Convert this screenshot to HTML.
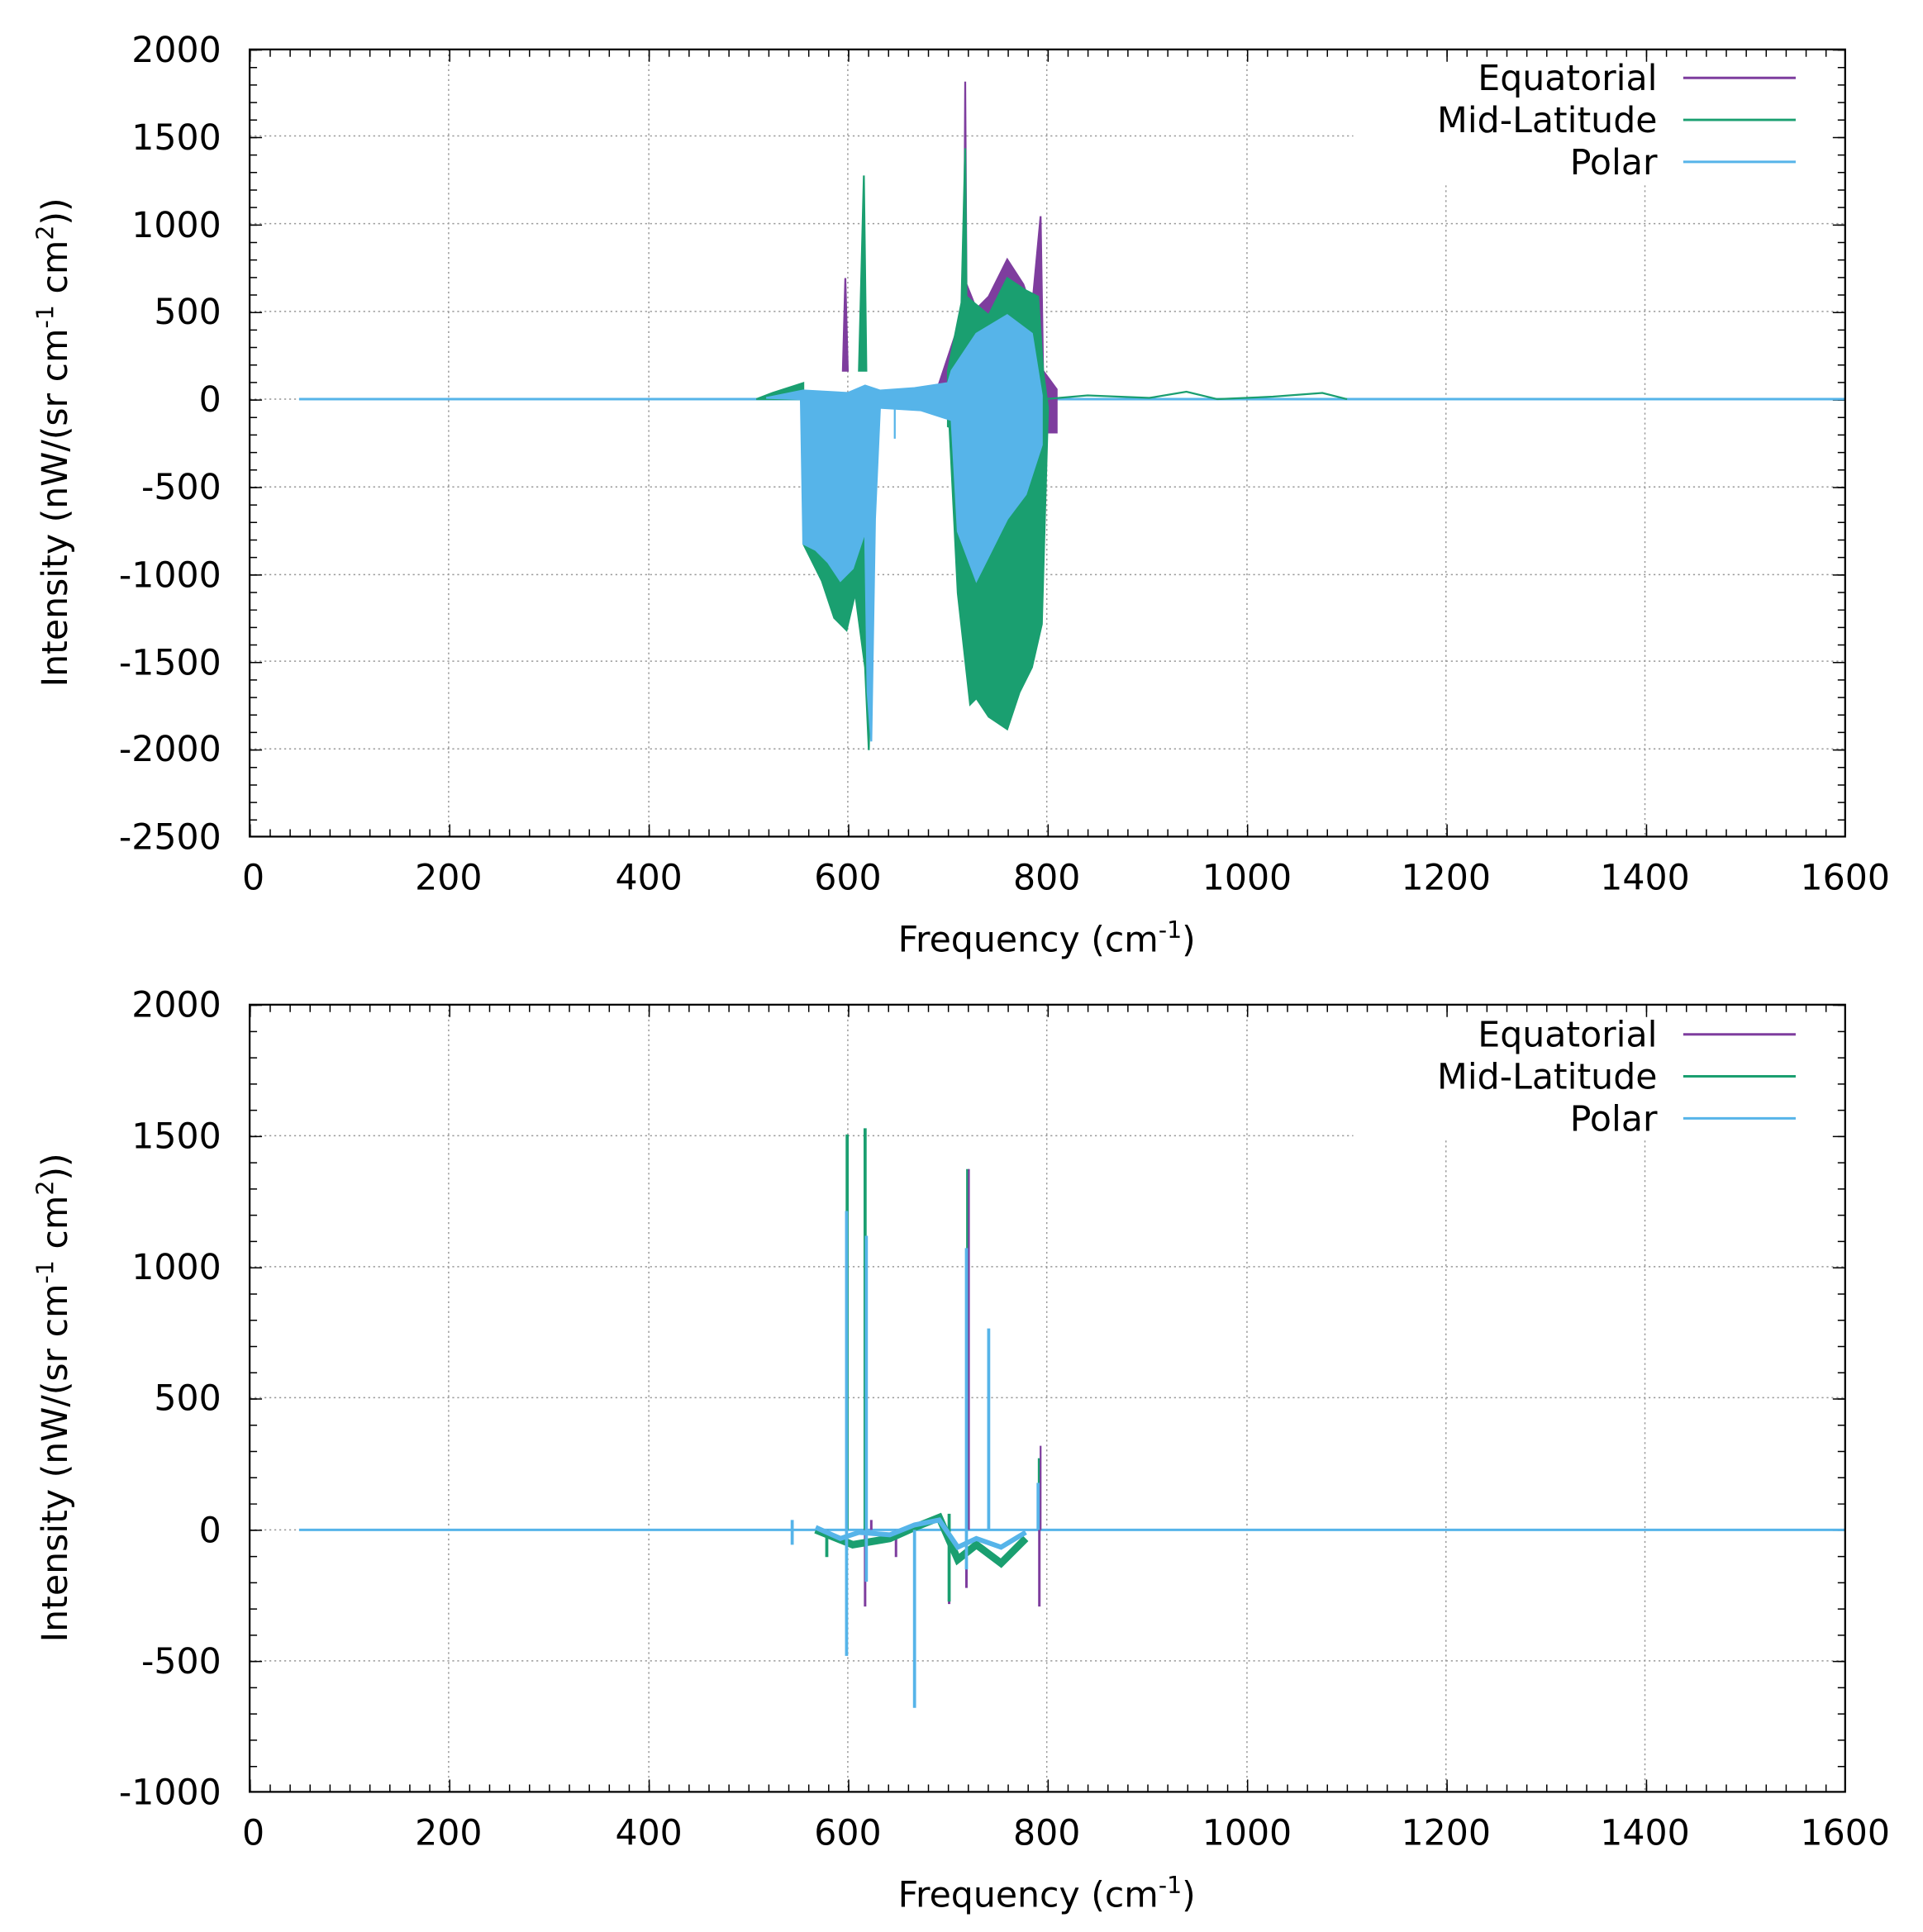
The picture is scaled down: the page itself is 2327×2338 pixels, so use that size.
<!DOCTYPE html>
<html><head><meta charset="utf-8"><style>html,body{margin:0;padding:0;background:#fff}svg{display:block}</style></head><body>
<svg width="2327" height="2338" viewBox="0 0 1556 1563.4" preserveAspectRatio="none" xmlns="http://www.w3.org/2000/svg" font-family="DejaVu Sans, Liberation Sans, sans-serif" font-size="28.5">
<rect width="1556" height="1564" fill="#fff"/>
<!-- ============ TOP PLOT ============ -->
<g stroke="#999" stroke-width="1" stroke-dasharray="1.5 2.5" fill="none">
<path d="M202 110H1095M202 181H1493M202 252H1493M202 394H1493M202 465H1493M202 535H1493M202 606H1493"/>
<path d="M363 40V677M525 40V677M686 40V677M847 40V677M1009 40V677M1170 150V677M1331 150V677"/>
</g>
<g stroke="#000" stroke-width="1" fill="none">
<path d="M202 323H1493" stroke="#999" stroke-dasharray="1.5 2.5"/>
<line x1="202" y1="674" x2="1493" y2="674" stroke-width="6" stroke-dasharray="1 15.14"/>
<line x1="202" y1="43" x2="1493" y2="43" stroke-width="6" stroke-dasharray="1 15.14"/>
<line x1="205" y1="40" x2="205" y2="677" stroke-width="6" stroke-dasharray="1 13.16"/>
<line x1="1490" y1="40" x2="1490" y2="677" stroke-width="6" stroke-dasharray="1 13.16"/>
<line x1="202" y1="672" x2="1493" y2="672" stroke-width="10" stroke-dasharray="1 160.4"/>
<line x1="202" y1="45" x2="1493" y2="45" stroke-width="10" stroke-dasharray="1 160.4"/>
<line x1="207" y1="40" x2="207" y2="677" stroke-width="10" stroke-dasharray="1 69.8"/>
<line x1="1488" y1="40" x2="1488" y2="677" stroke-width="10" stroke-dasharray="1 69.8"/>
</g>
<path d="M242 323H1493" stroke="#56b4e9" stroke-width="2"/>
<g stroke-width="1.5">
<path d="M612 323L625 318L650 310L650 440L665 470L675 500L685 510L692 480L700 540L703 607L706 470L710 330L712 318L740 318L767 315L767 345L780 350L780 323Z" fill="#1a9f70" stroke="#1a9f70"/>
<path d="M760 310L780 250L781 66L782 230L790 250L800 240L815 210L828 230L835 250L842 175L844 300L855 315L855 350L843 350L843 323Z" fill="#7e3d9e" stroke="#7e3d9e"/>
<path d="M767 300L778 245L781 120L782 240L800 255L815 225L830 235L840 240L844 300L848 330L843 505L835 540L825 560L815 590L800 580L790 565L785 570L775 480L767 320Z" fill="#1a9f70" stroke="#1a9f70"/>
<path d="M695 300L699 142L701 300Z" fill="#1a9f70" stroke="#1a9f70"/>
<path d="M682 300L684 225L686 300Z" fill="#7e3d9e" stroke="#7e3d9e"/>
<path d="M620 322L650 316L686 318L700 312L712 316L740 314L767 310L770 300L790 270L815 255L835 270L843 320L843 360L830 400L815 420L810 430L800 450L790 470L775 430L770 340L745 332L712 330L708 420L705 600L702 560L700 430L690 460L680 470L670 455L660 445L650 440L648 323Z" fill="#56b4e9" stroke="#56b4e9"/>
<path d="M845 323L880 320L930 322L960 317L985 323L1030 321L1070 318L1090 323" fill="none" stroke="#1a9f70"/>
<path d="M666 323V390M724 323V355" stroke="#56b4e9"/>
</g>
<rect x="202" y="40" width="1291" height="637" fill="none" stroke="#000" stroke-width="1.5"/>
<g text-anchor="end" fill="#000">
<text x="179" y="50">2000</text><text x="179" y="121">1500</text><text x="179" y="192">1000</text><text x="179" y="262">500</text><text x="179" y="333">0</text><text x="179" y="404">-500</text><text x="179" y="475">-1000</text><text x="179" y="546">-1500</text><text x="179" y="616">-2000</text><text x="179" y="687">-2500</text>
</g>
<g text-anchor="middle" fill="#000">
<text x="205" y="720">0</text><text x="363" y="720">200</text><text x="525" y="720">400</text><text x="686" y="720">600</text><text x="847" y="720">800</text><text x="1009" y="720">1000</text><text x="1170" y="720">1200</text><text x="1331" y="720">1400</text><text x="1493" y="720">1600</text>
<text x="847" y="770">Frequency (cm<tspan font-size="19" dy="-11">-1</tspan><tspan dy="11">)</tspan></text>
<text transform="translate(54 358) rotate(-90)">Intensity (nW/(sr cm<tspan font-size="19" dy="-11">-1</tspan><tspan dy="11"> cm</tspan><tspan font-size="19" dy="-11">2</tspan><tspan dy="11">))</tspan></text>
</g>
<g text-anchor="end"><text x="1341" y="73">Equatorial</text><text x="1341" y="107">Mid-Latitude</text><text x="1341" y="141">Polar</text></g>
<path d="M1362 63H1453" stroke="#7e3d9e" stroke-width="2"/><path d="M1362 97H1453" stroke="#1a9f70" stroke-width="2"/><path d="M1362 131H1453" stroke="#56b4e9" stroke-width="2"/>

<!-- ============ BOTTOM PLOT ============ -->
<g stroke="#999" stroke-width="1" stroke-dasharray="1.5 2.5" fill="none">
<path d="M202 919H1095M202 1025H1493M202 1131H1493M202 1238H1493M202 1344H1493"/>
<path d="M363 813V1450M525 813V1450M686 813V1450M847 813V1450M1009 813V1450M1170 923V1450M1331 923V1450"/>
</g>
<g stroke="#000" stroke-width="1" fill="none">
<line x1="202" y1="1447" x2="1493" y2="1447" stroke-width="6" stroke-dasharray="1 15.14"/>
<line x1="202" y1="816" x2="1493" y2="816" stroke-width="6" stroke-dasharray="1 15.14"/>
<line x1="205" y1="813" x2="205" y2="1450" stroke-width="6" stroke-dasharray="1 20.24"/>
<line x1="1490" y1="813" x2="1490" y2="1450" stroke-width="6" stroke-dasharray="1 20.24"/>
<line x1="202" y1="1445" x2="1493" y2="1445" stroke-width="10" stroke-dasharray="1 160.4"/>
<line x1="202" y1="818" x2="1493" y2="818" stroke-width="10" stroke-dasharray="1 160.4"/>
<line x1="207" y1="813" x2="207" y2="1450" stroke-width="10" stroke-dasharray="1 105.2"/>
<line x1="1488" y1="813" x2="1488" y2="1450" stroke-width="10" stroke-dasharray="1 105.2"/>
</g>
<path d="M242 1238H1493" stroke="#56b4e9" stroke-width="2"/>
<g stroke-width="1.5" fill="none">
<path d="M700 1238V1300M725 1238V1260M782 1238V1285M841 1238V1300M768 1238V1298M705 1238V1230" stroke="#7e3d9e" stroke-width="2"/>
<path d="M660 1238L690 1250L720 1245L740 1236L760 1228L775 1262L790 1250L810 1265L830 1245" stroke="#1a9f70" stroke-width="6"/>
<path d="M685.5 1238V918M700 1238V913M783 1238V946M841 1238V1180M669 1238V1260M768 1225V1296" stroke="#1a9f70" stroke-width="2.5"/>
<path d="M784 1238V946M842 1238V1170" stroke="#7e3d9e" stroke-width="1.5"/>
<path d="M660 1236L680 1245L695 1240L720 1242L740 1234L760 1230L775 1252L790 1245L810 1252L830 1240" stroke="#56b4e9" stroke-width="4"/>
<path d="M685 1340V980M701 1280V1000M740 1382V1238M782 1270V1010M800 1238V1075M641 1230V1250M840 1238V1200" stroke="#56b4e9" stroke-width="2.5"/>
</g>
<rect x="202" y="813" width="1291" height="637" fill="none" stroke="#000" stroke-width="1.5"/>
<g text-anchor="end" fill="#000">
<text x="179" y="823">2000</text><text x="179" y="929">1500</text><text x="179" y="1035">1000</text><text x="179" y="1141">500</text><text x="179" y="1248">0</text><text x="179" y="1354">-500</text><text x="179" y="1460">-1000</text>
</g>
<g text-anchor="middle" fill="#000">
<text x="205" y="1493">0</text><text x="363" y="1493">200</text><text x="525" y="1493">400</text><text x="686" y="1493">600</text><text x="847" y="1493">800</text><text x="1009" y="1493">1000</text><text x="1170" y="1493">1200</text><text x="1331" y="1493">1400</text><text x="1493" y="1493">1600</text>
<text x="847" y="1543">Frequency (cm<tspan font-size="19" dy="-11">-1</tspan><tspan dy="11">)</tspan></text>
<text transform="translate(54 1131) rotate(-90)">Intensity (nW/(sr cm<tspan font-size="19" dy="-11">-1</tspan><tspan dy="11"> cm</tspan><tspan font-size="19" dy="-11">2</tspan><tspan dy="11">))</tspan></text>
</g>
<g text-anchor="end"><text x="1341" y="847">Equatorial</text><text x="1341" y="881">Mid-Latitude</text><text x="1341" y="915">Polar</text></g>
<path d="M1362 837H1453" stroke="#7e3d9e" stroke-width="2"/><path d="M1362 871H1453" stroke="#1a9f70" stroke-width="2"/><path d="M1362 905H1453" stroke="#56b4e9" stroke-width="2"/>
</svg>
</body></html>
